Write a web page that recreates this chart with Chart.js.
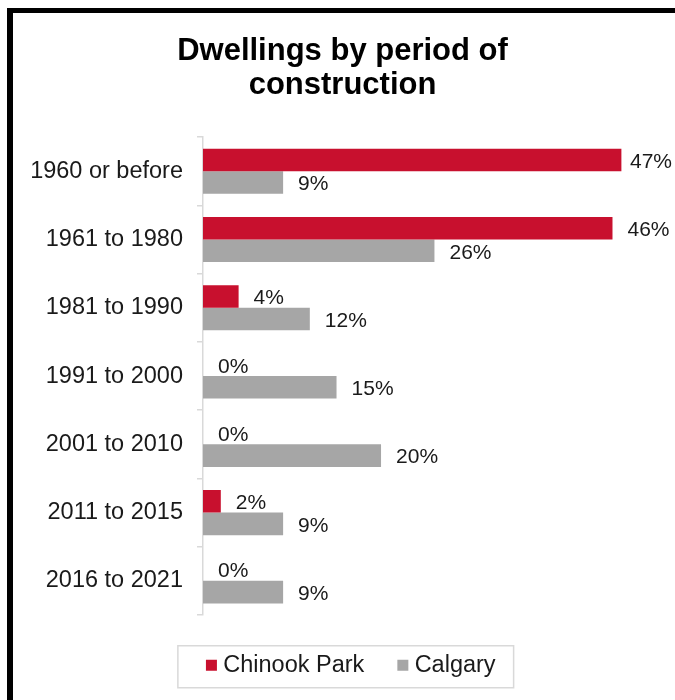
<!DOCTYPE html>
<html>
<head>
<meta charset="utf-8">
<script src="https://cdn.jsdelivr.net/npm/chart.js@4.4.0/dist/chart.umd.min.js"></script>
<style>
  html, body { margin: 0; padding: 0; background: #ffffff; }
  canvas { display: block; }
</style>
</head>
<body>
<canvas id="chart" width="675" height="700"></canvas>
<script>
// ---- Data ----
const categories = ['1960 or before', '1961 to 1980', '1981 to 1990', '1991 to 2000', '2001 to 2010', '2011 to 2015', '2016 to 2021'];
const chinookPark = [47, 46, 4, 0, 0, 2, 0];
const calgary = [9, 26, 12, 15, 20, 9, 9];
const seriesNames = ['Chinook Park', 'Calgary'];
const titleLines = ['Dwellings by period of', 'construction'];
const xMax = 51;

const FONT = "'Liberation Sans', Arial, sans-serif";
const TEXT = '#1a1a1a';

// Black frame (left and top edges)
const framePlugin = {
  id: 'frame',
  beforeDraw(chart) {
    const ctx = chart.ctx;
    ctx.save();
    ctx.fillStyle = '#ffffff';
    ctx.fillRect(0, 0, chart.width, chart.height);
    ctx.fillStyle = '#000000';
    ctx.fillRect(7, 8, chart.width - 7, 5);
    ctx.fillRect(7, 8, 6, chart.height - 8);
    ctx.restore();
  }
};

// Nudge the legend so it sits where the reference has it
const legendShift = {
  id: 'legendShift',
  afterLayout(chart) {
    if (chart.legend) { chart.legend.left += 11; chart.legend.right += 11; }
  }
};

// Value labels at the end of each bar
const valueLabels = {
  id: 'valueLabels',
  afterDatasetsDraw(chart) {
    const ctx = chart.ctx;
    ctx.save();
    ctx.font = '21px ' + FONT;
    ctx.fillStyle = TEXT;
    ctx.textAlign = 'left';
    ctx.textBaseline = 'middle';
    chart.data.datasets.forEach((ds, di) => {
      const meta = chart.getDatasetMeta(di);
      meta.data.forEach((el, i) => {
        const txt = ds.data[i] + '%';
        const w = ctx.measureText(txt).width;
        const x = Math.min(el.x + 15, chart.width - 3 - w);
        ctx.fillText(txt, x, el.y + 2);
      });
    });
    ctx.restore();
  }
};

// Border around the legend
const legendBox = {
  id: 'legendBox',
  afterDraw(chart) {
    const hb = chart.legend && chart.legend.legendHitBoxes;
    if (!hb || !hb.length) return;
    const first = hb[0], last = hb[hb.length - 1];
    const x0 = first.left - 33.5;
    const x1 = last.left + last.width + 18;
    const y0 = first.top - 7.75;
    const y1 = first.top + first.height + 10.75;
    const ctx = chart.ctx;
    ctx.save();
    ctx.strokeStyle = '#d9d9d9';
    ctx.lineWidth = 1.5;
    ctx.strokeRect(x0, y0, x1 - x0, y1 - y0);
    ctx.restore();
  }
};

new Chart(document.getElementById('chart'), {
  type: 'bar',
  data: {
    labels: categories,
    datasets: [
      { label: seriesNames[0], data: chinookPark, backgroundColor: '#C8102E', borderWidth: 0 },
      { label: seriesNames[1], data: calgary, backgroundColor: '#A6A6A6', borderWidth: 0 }
    ]
  },
  options: {
    indexAxis: 'y',
    responsive: false,
    animation: false,
    datasets: { bar: { barPercentage: 1.0, categoryPercentage: 0.66 } },
    layout: { padding: { left: 28, right: 18, top: 0, bottom: 13 } },
    scales: {
      x: {
        min: 0, max: xMax,
        display: false
      },
      y: {
        offset: true,
        grid: { display: true, drawOnChartArea: false, drawTicks: true, tickLength: 6, color: '#d9d9d9', lineWidth: 1.5, offset: true },
        border: { display: true, color: '#d9d9d9', width: 1.5 },
        ticks: { padding: 14, color: TEXT, font: { family: FONT, size: 23.5 } },
        afterFit: (s) => { s.width = 175; }
      }
    },
    plugins: {
      title: {
        display: true,
        text: titleLines,
        color: '#000000',
        font: { family: FONT, size: 31, weight: 'bold', lineHeight: 1.1 },
        padding: { top: 34, bottom: 35 }
      },
      legend: {
        display: true,
        position: 'bottom',
        labels: {
          usePointStyle: true,
          pointStyle: 'rect',
          boxWidth: 0.1,
          boxHeight: 11,
          padding: 38.5,
          color: TEXT,
          font: { family: FONT, size: 23.5 }
        }
      },
      tooltip: { enabled: false }
    }
  },
  plugins: [framePlugin, legendShift, valueLabels, legendBox]
});
</script>
</body>
</html>
